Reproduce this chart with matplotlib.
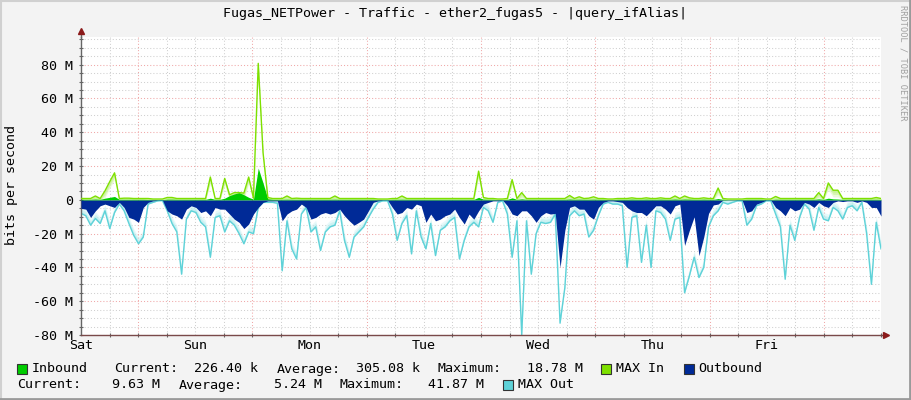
import numpy as np
import matplotlib
matplotlib.use("Agg")
import matplotlib.pyplot as plt
from matplotlib.ticker import MultipleLocator, FixedLocator
from matplotlib.patches import Rectangle
from matplotlib.lines import Line2D

W, H = 911, 400

title = "Fugas_NETPower - Traffic - ether2_fugas5 - |query_ifAlias|"
days = ["Sat", "Sun", "Mon", "Tue", "Wed", "Thu", "Fri"]

# hourly samples (M bits/s), starting Saturday 12:00
in_avg = [
    0.3, 0.3, 0.3, 0.5, 0.3, 1.0, 1.5, 2.0, 0.3, 0.3, 0.3, 0.3,
    0.3, 0.3, 0.2, 0.1, 0.1, 0.1, 0.4, 0.4, 0.3, 0.3, 0.3, 0.3,
    0.3, 0.3, 0.3, 1.0, 0.3, 0.3, 1.0, 2.5, 3.5, 4.3, 3.0, 1.5,
    0.4, 18.8, 10.0, 0.6, 0.3, 0.3, 0.3, 0.4, 0.3, 0.3, 0.3, 0.3,
    0.3, 0.3, 0.3, 0.3, 0.3, 0.4, 0.3, 0.3, 0.3, 0.3, 0.3, 0.3,
    0.3, 0.3, 0.1, 0.1, 0.1, 0.3, 0.3, 0.4, 0.3, 0.3, 0.3, 0.3,
    0.3, 0.3, 0.3, 0.3, 0.3, 0.3, 0.3, 0.3, 0.3, 0.3, 0.3, 1.5,
    0.4, 0.3, 0.3, 0.1, 0.1, 0.3, 1.2, 0.3, 0.6, 0.3, 0.3, 0.3,
    0.3, 0.3, 0.3, 0.3, 0.3, 0.3, 0.5, 0.3, 0.4, 0.3, 0.3, 0.4,
    0.3, 0.3, 0.1, 0.1, 0.3, 0.3, 0.3, 0.4, 0.3, 0.3, 0.4, 0.3,
    0.3, 0.4, 0.3, 0.3, 0.5, 0.3, 0.5, 0.4, 0.3, 0.3, 0.4, 0.3,
    0.3, 0.8, 0.3, 0.1, 0.1, 0.1, 0.1, 0.3, 0.3, 0.3, 0.3, 0.1,
    0.1, 0.4, 0.3, 0.3, 0.3, 0.3, 0.3, 0.3, 0.3, 0.3, 0.6, 0.3,
    1.0, 0.6, 0.5, 0.3, 0.3, 0.3, 0.3, 0.3, 0.3, 0.3, 0.3, 0.23,
]
in_max = [
    0.8, 0.8, 0.8, 2.3, 0.8, 5.3, 10.8, 16.0, 0.8, 1.0, 1.0, 0.8,
    0.8, 0.8, 0.8, 0.5, 0.5, 0.5, 1.4, 1.4, 0.8, 0.8, 0.8, 0.8,
    0.8, 0.8, 0.8, 13.5, 0.8, 0.8, 12.7, 3.0, 4.3, 4.3, 4.0, 13.5,
    1.0, 80.8, 28.0, 1.4, 0.8, 0.8, 0.8, 2.3, 0.8, 1.0, 0.8, 0.8,
    0.8, 0.8, 0.8, 0.8, 0.8, 2.3, 0.8, 0.8, 0.8, 0.8, 0.8, 0.8,
    0.8, 0.8, 0.5, 0.5, 0.5, 0.8, 0.8, 2.3, 0.8, 0.8, 0.8, 0.8,
    0.8, 0.8, 0.8, 0.8, 0.8, 0.8, 0.8, 0.8, 0.8, 0.8, 0.8, 17.0,
    1.4, 0.8, 0.8, 0.5, 0.5, 0.8, 12.0, 0.8, 4.3, 0.8, 0.8, 0.8,
    0.8, 0.8, 0.8, 0.8, 0.8, 0.8, 2.6, 0.8, 1.8, 0.8, 1.0, 1.8,
    0.8, 0.8, 0.5, 0.5, 0.8, 0.8, 0.8, 1.2, 0.8, 0.8, 1.2, 0.8,
    0.8, 1.2, 0.8, 0.8, 2.3, 0.8, 2.3, 1.2, 0.8, 0.8, 1.2, 0.8,
    0.8, 7.0, 0.8, 0.5, 0.5, 0.5, 0.5, 0.8, 0.8, 0.8, 0.8, 0.5,
    0.5, 2.0, 0.8, 0.8, 0.8, 0.8, 0.8, 0.8, 0.8, 0.8, 4.3, 0.8,
    10.0, 5.7, 5.7, 0.8, 0.8, 0.8, 0.8, 0.8, 0.8, 0.8, 1.4, 0.8,
]
out_avg = [
    5.0, 5.5, 10.4, 6.5, 3.5, 2.5, 3.5, 4.5, 1.5, 4.5, 10.4, 11.4,
    13.3, 4.5, 1.5, 0.6, 0.2, 0.2, 6.5, 8.4, 9.4, 11.4, 5.5, 3.5,
    4.5, 7.5, 6.5, 9.4, 4.5, 5.5, 5.5, 8.4, 11.4, 13.3, 17.0, 14.3,
    8.4, 4.5, 1.5, 0.6, 0.6, 0.6, 12.4, 8.4, 6.5, 5.5, 2.5, 4.5,
    11.4, 10.4, 8.4, 7.5, 8.4, 7.5, 5.5, 9.4, 12.4, 15.0, 13.3, 11.4,
    6.5, 1.5, 0.6, 0.2, 0.2, 4.5, 8.4, 7.5, 4.5, 5.5, 2.5, 3.5,
    13.3, 8.4, 12.4, 11.4, 9.4, 8.4, 5.5, 10.4, 14.3, 8.4, 11.4, 6.5,
    2.5, 1.5, 0.6, 0.6, 0.2, 3.5, 8.4, 9.4, 6.5, 6.5, 9.4, 13.3,
    9.4, 7.5, 8.4, 8.0, 40.0, 18.0, 4.5, 3.5, 5.5, 5.5, 9.4, 11.4,
    4.5, 1.5, 0.6, 0.6, 1.0, 1.5, 4.5, 6.5, 7.5, 7.5, 9.4, 6.5,
    3.5, 3.5, 5.5, 8.4, 3.5, 2.5, 27.0, 18.0, 10.0, 33.0, 22.0, 8.0,
    3.0, 2.5, 0.2, 0.2, 0.2, 0.2, 0.2, 7.5, 6.5, 2.5, 1.5, 0.2,
    0.2, 4.5, 6.5, 9.4, 4.5, 6.5, 5.5, 1.5, 2.5, 4.5, 1.5, 3.5,
    4.5, 1.5, 0.6, 1.0, 0.6, 0.6, 1.5, 0.6, 1.5, 4.5, 4.5, 9.6,
]
out_max = [
    8.0, 9.4, 15.0, 11.0, 14.0, 6.5, 17.0, 7.5, 2.5, 6.5, 14.0, 21.0,
    26.0, 22.0, 2.5, 1.5, 0.6, 0.4, 6.5, 14.0, 19.0, 44.0, 11.4, 6.5,
    7.5, 13.3, 16.0, 34.0, 10.4, 9.4, 19.0, 12.4, 15.0, 20.0, 26.0, 19.0,
    20.0, 4.5, 1.5, 1.5, 1.5, 2.0, 42.0, 12.4, 29.0, 35.0, 8.4, 4.5,
    19.0, 16.0, 30.0, 19.0, 16.0, 15.0, 6.5, 24.0, 34.0, 22.0, 19.0, 16.0,
    10.4, 5.5, 1.5, 0.6, 0.6, 8.4, 24.0, 14.0, 9.4, 32.0, 6.5, 22.0,
    29.0, 14.0, 33.0, 18.0, 16.0, 12.4, 10.4, 35.0, 24.0, 16.0, 13.3, 16.0,
    4.5, 6.5, 13.3, 1.5, 0.6, 8.4, 34.0, 12.4, 80.0, 12.4, 44.0, 20.0,
    13.3, 14.0, 13.3, 8.4, 73.0, 52.0, 9.4, 6.5, 9.4, 8.4, 22.0, 18.0,
    9.4, 2.5, 1.5, 2.5, 2.5, 3.5, 40.0, 10.4, 9.4, 37.0, 15.0, 40.0,
    6.5, 7.5, 11.4, 24.0, 11.4, 10.4, 55.0, 45.0, 34.0, 46.0, 40.0, 16.0,
    9.4, 6.5, 1.5, 2.5, 1.5, 0.6, 0.6, 15.0, 11.4, 3.5, 2.5, 0.6,
    0.6, 8.4, 16.0, 47.0, 15.0, 24.0, 10.4, 2.5, 5.5, 18.0, 4.5, 11.4,
    12.4, 4.5, 6.5, 11.4, 4.5, 3.5, 6.5, 1.5, 20.0, 50.0, 13.3, 29.0,
]

legend_row1 = [(33, "Inbound"), (115, "Current:"), (195, "226.40 k"), (278, "Average:"),
               (357, "305.08 k"), (439, "Maximum:"), (528, "18.78 M"), (617, "MAX In"),
               (699, "Outbound")]
legend_row2 = [(18, "Current:"), (113, "9.63 M"), (180, "Average:"), (275, "5.24 M"),
               (341, "Maximum:"), (429, "41.87 M"), (519, "MAX Out")]

C_IN = "#00CC00"
C_INMAX = "#7EE000"
C_INMAX_L = "#C8F296"
C_OUT = "#002A97"
C_OUTMAX = "#5ED2D8"
C_OUTMAX_L = "#BDEEF0"

plt.rcParams["font.family"] = ["DejaVu Sans Mono"]
FS = 9.6


def fx(x):
    return x / W


def fy(y):
    return 1 - y / H


ia = np.asarray(in_avg, dtype=float)
im = np.asarray(in_max, dtype=float)
oa = -np.asarray(out_avg, dtype=float)
om = -np.asarray(out_max, dtype=float)
hours = np.linspace(0, 168, len(ia))

fig = plt.figure(figsize=(W / 100, H / 100), dpi=100, facecolor="#F3F3F3")
ax = fig.add_axes([fx(81), fy(335), fx(800), (335 - 37) / H])
ax.set_facecolor("white")
ax.set_xlim(0, 168)
ax.set_ylim(-80, 96.4)

# grid
for v in range(-80, 97, 5):
    if v == 0:
        continue
    ax.axhline(v, color="#F0A8A8" if v % 20 == 0 else "#D0D0D0",
               lw=0.75, ls=(0, (1, 2)), zorder=0.5)
for h in range(6, 168, 6):
    ax.axvline(h, color="#F0A8A8" if (h - 12) % 24 == 0 else "#D0D0D0",
               lw=0.75, ls=(0, (1, 2)), zorder=0.5)

# outbound (negative)
for off, a in [(4.0, 0.35), (2.5, 0.6), (1.2, 0.9)]:
    ax.fill_between(hours, om, np.minimum(om + off, 0),
                    color=C_OUTMAX_L, alpha=a, lw=0, zorder=1)
ax.plot(hours, om, color=C_OUTMAX, lw=1.0, zorder=2)
ax.fill_between(hours, 0, oa, color=C_OUT, lw=0, zorder=3)

# inbound (positive)
for off, a in [(4.0, 0.35), (2.5, 0.6), (1.2, 0.9)]:
    ax.fill_between(hours, im, np.maximum(im - off, 0),
                    color=C_INMAX_L, alpha=a, lw=0, zorder=1)
ax.fill_between(hours, 0, ia, color=C_IN, lw=0, zorder=3)
ax.plot(hours, im, color=C_INMAX, lw=1.0, zorder=4)

# axes styling
for s in ["top", "right"]:
    ax.spines[s].set_visible(False)
ax.spines["left"].set_color("#666666")
ax.spines["left"].set_linewidth(1.0)
ax.spines["bottom"].set_color("#7A4A4A")
ax.spines["bottom"].set_linewidth(1.0)

ax.set_yticks(range(-80, 81, 20))
ax.set_yticklabels([("%d M" % v) if v != 0 else "0" for v in range(-80, 81, 20)])
ax.yaxis.set_minor_locator(MultipleLocator(5))
ax.xaxis.set_major_locator(FixedLocator(np.arange(0, 168, 24)))
ax.set_xticklabels(days)
ax.xaxis.set_minor_locator(MultipleLocator(6))
ax.tick_params(axis="both", which="both", direction="inout", length=3,
               width=0.8, color="#666666", labelsize=FS, labelcolor="#000000")
ax.tick_params(axis="y", which="major", pad=4)
ax.tick_params(axis="x", which="major", pad=3, length=0)

# arrows
fig.add_artist(Line2D([fx(81), fx(81)], [fy(37), fy(31)], color="#666666", lw=1.0))
fig.add_artist(Line2D([fx(81)], [fy(31)], marker="^", color="#8B1A1A", markersize=5, lw=0))
fig.add_artist(Line2D([fx(881), fx(885)], [fy(335), fy(335)], color="#7A4A4A", lw=1.0))
fig.add_artist(Line2D([fx(886)], [fy(335)], marker=">", color="#8B1A1A", markersize=5, lw=0))

# texts
fig.text(fx(455), fy(14), title, ha="center", va="center", fontsize=FS)
fig.text(fx(12), fy(185), "bits per second", rotation=90, ha="center", va="center", fontsize=FS)
fig.text(fx(903), fy(5), "RRDTOOL / TOBI OETIKER", rotation=270, ha="center", va="top",
         fontsize=6.2, color="#A0A0A0")

for x, t in legend_row1:
    fig.text(fx(x - 1), fy(369), t, ha="left", va="center", fontsize=FS)
for x, t in legend_row2:
    fig.text(fx(x - 1), fy(385), t, ha="left", va="center", fontsize=FS)

for x, y, c in [(17, 364, C_IN), (601, 364, C_INMAX), (684, 364, C_OUT), (503, 380, C_OUTMAX)]:
    fig.add_artist(Rectangle((fx(x), fy(y + 10)), fx(10), 10 / H, facecolor=c,
                             edgecolor="#333333", lw=0.8, transform=fig.transFigure))

# frame
fig.add_artist(Line2D([0, 1], [fy(0.5), fy(0.5)], color="#D0D0D0", lw=1.5))
fig.add_artist(Line2D([fx(0.5), fx(0.5)], [0, 1], color="#D0D0D0", lw=1.5))
fig.add_artist(Line2D([0, 1], [fy(399), fy(399)], color="#9A9A9A", lw=2.0))
fig.add_artist(Line2D([fx(910), fx(910)], [0, 1], color="#9A9A9A", lw=2.0))

fig.savefig("out.png", dpi=100, facecolor=fig.get_facecolor())
